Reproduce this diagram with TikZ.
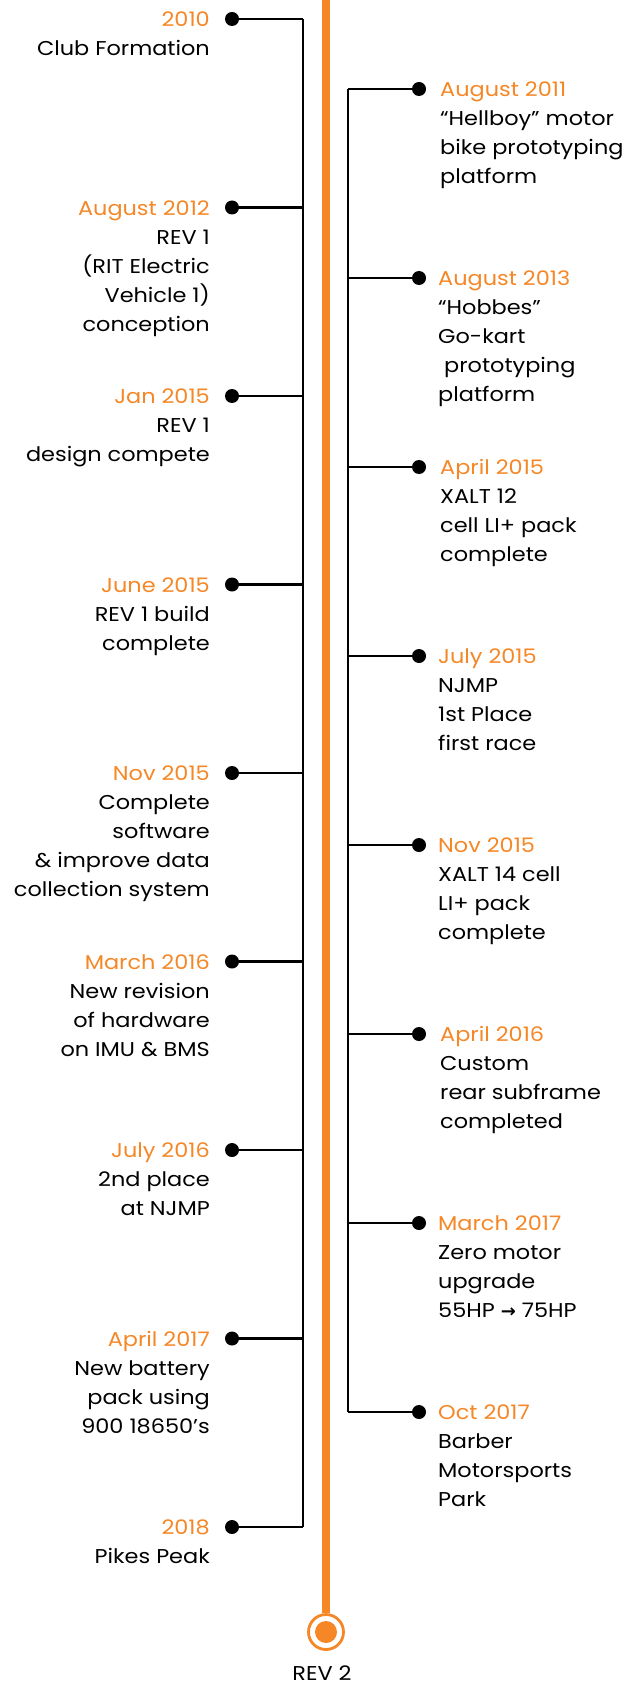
\documentclass[tikz,border=0pt]{standalone}
\usepackage{fontspec}
\setmainfont[FakeStretch=1.12]{Poppins}
\newfontfamily\arrowfont{DejaVu Sans}
\definecolor{tlorange}{HTML}{F58726}
\newcommand{\dt}[1]{\textcolor{tlorange}{#1}}
\begin{document}
\begin{tikzpicture}[x=1pt,y=-1pt,
  tlline/.style={line width=2.2pt, black},
  tldot/.style={circle, fill=black, inner sep=0pt, minimum size=14pt},
  ltext/.style={anchor=base east, inner sep=0pt, font=\fontsize{20}{29}\selectfont},
  rtext/.style={anchor=base west, inner sep=0pt, font=\fontsize{20}{29}\selectfont},
  axis/.style={line width=8pt, tlorange}]
\useasboundingbox (0,0) rectangle (636,1685);

% main orange axis
\node[circle, draw=tlorange, line width=2.8pt, fill=white, inner sep=0pt, minimum size=35pt] (rev) at (326,1632) {};
\fill[tlorange] (rev.center) circle (11);
\coordinate (top) at (326,0);
\draw[axis] (top) -- (rev.north);
\node[anchor=base, inner sep=0pt, font=\fontsize{20}{29}\selectfont] (revlabel) at (322,1680) {REV 2};

% left side
\foreach \i/\y in {1/19,2/207.5,3/396,4/584.5,5/773,6/961.5,7/1150,8/1338.5,9/1527}{
  \node[tldot] (ld\i) at (232,\y) {};
  \coordinate (lc\i) at (303,\y);
  \draw[tlline] (ld\i.center) -- (lc\i);
}
\draw[tlline] (lc1) -- (lc9);

\node[ltext] (lt1) at (210,26.75) {\begin{tabular}[t]{@{}r@{}}\dt{2010}\\Club Formation\end{tabular}};
\node[ltext] (lt2) at (210,215.25) {\begin{tabular}[t]{@{}r@{}}\dt{August 2012}\\REV 1\\(RIT Electric\\Vehicle 1)\\conception\end{tabular}};
\node[ltext] (lt3) at (210,403.75) {\begin{tabular}[t]{@{}r@{}}\dt{Jan 2015}\\REV 1\\design compete\end{tabular}};
\node[ltext] (lt4) at (210,592.25) {\begin{tabular}[t]{@{}r@{}}\dt{June 2015}\\REV 1 build\\complete\end{tabular}};
\node[ltext] (lt5) at (210,780.75) {\begin{tabular}[t]{@{}r@{}}\dt{Nov 2015}\\Complete\\software\\\& improve data\\collection system\end{tabular}};
\node[ltext] (lt6) at (210,969.25) {\begin{tabular}[t]{@{}r@{}}\dt{March 2016}\\New revision\\of hardware\\on IMU \& BMS\end{tabular}};
\node[ltext] (lt7) at (210,1157.75) {\begin{tabular}[t]{@{}r@{}}\dt{July 2016}\\2nd place\hspace{0.35em}\\at NJMP\hspace{0.35em}\end{tabular}};
\node[ltext] (lt8) at (210,1346.25) {\begin{tabular}[t]{@{}r@{}}\dt{April 2017}\\New battery\\pack using\\900 18650’s\end{tabular}};
\node[ltext] (lt9) at (210,1534.75) {\begin{tabular}[t]{@{}r@{}}\dt{2018}\\Pikes Peak\end{tabular}};

% right side
\foreach \i/\y in {1/89,2/278,3/467,4/656,5/845,6/1034,7/1223,8/1412}{
  \node[tldot] (rd\i) at (419,\y) {};
  \coordinate (rc\i) at (348,\y);
  \draw[tlline] (rc\i) -- (rd\i.center);
}
\draw[tlline] (rc1) -- (rc8);

\node[rtext] (rt1) at (440,96.75) {\begin{tabular}[t]{@{}l@{}}\dt{August 2011}\\“Hellboy” motor\\bike prototyping\\platform\end{tabular}};
\node[rtext] (rt2) at (438,285.75) {\begin{tabular}[t]{@{}l@{}}\dt{August 2013}\\“Hobbes”\\Go-kart\\\hspace{0.3em}prototyping\\platform\end{tabular}};
\node[rtext] (rt3) at (440,474.75) {\begin{tabular}[t]{@{}l@{}}\dt{April 2015}\\XALT 12\\cell LI+ pack\\complete\end{tabular}};
\node[rtext] (rt4) at (438,663.75) {\begin{tabular}[t]{@{}l@{}}\dt{July 2015}\\NJMP\\1st Place\\first race\end{tabular}};
\node[rtext] (rt5) at (438,852.75) {\begin{tabular}[t]{@{}l@{}}\dt{Nov 2015}\\XALT 14 cell\\LI+ pack\\complete\end{tabular}};
\node[rtext] (rt6) at (440,1041.75) {\begin{tabular}[t]{@{}l@{}}\dt{April 2016}\\Custom\\rear subframe\\completed\end{tabular}};
\node[rtext] (rt7) at (438,1230.75) {\begin{tabular}[t]{@{}l@{}}\dt{March 2017}\\Zero motor\\upgrade\\55HP {\arrowfont\bfseries\fontsize{18}{29}\selectfont →} 75HP\end{tabular}};
\node[rtext] (rt8) at (438,1419.75) {\begin{tabular}[t]{@{}l@{}}\dt{Oct 2017}\\Barber\\Motorsports\\Park\end{tabular}};
\end{tikzpicture}
\end{document}
